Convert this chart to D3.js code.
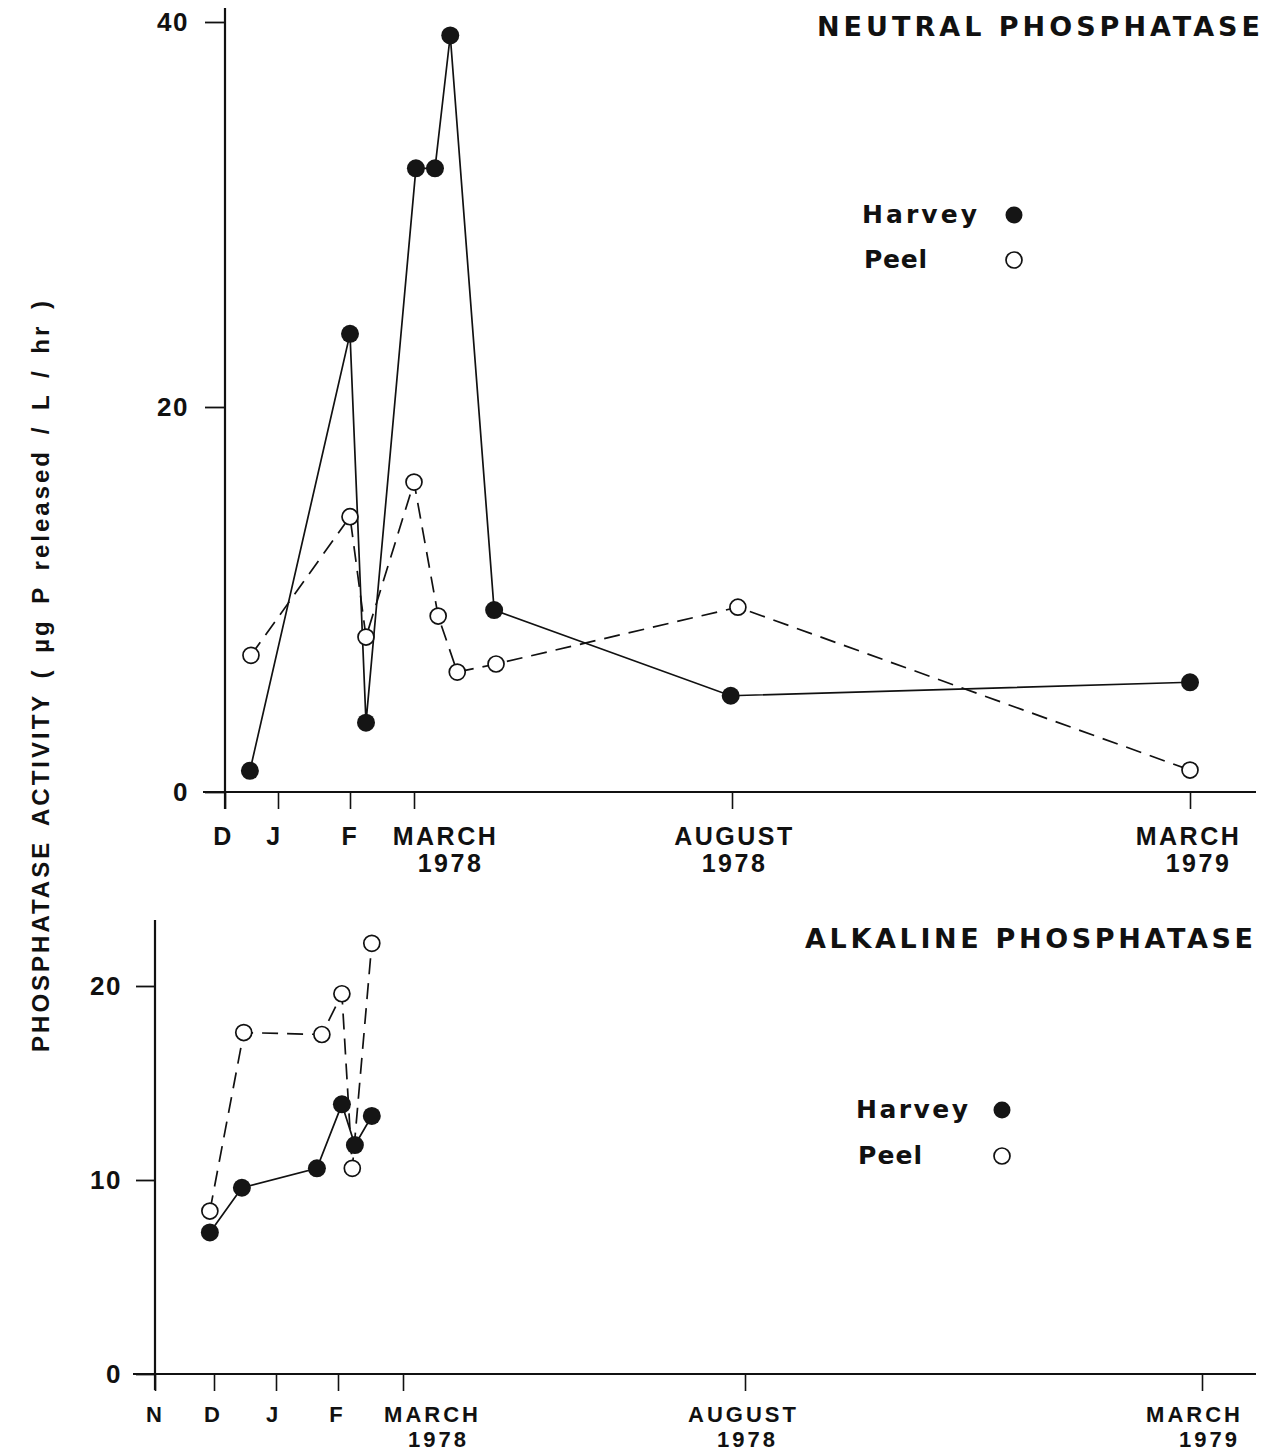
<!DOCTYPE html>
<html>
<head>
<meta charset="utf-8">
<script src="https://cdn.jsdelivr.net/npm/d3@7"></script>
<style>
  body { margin: 0; background: #fff; }
  text { fill: #111; }
  .lbl { font-family: "Liberation Sans", Arial, sans-serif; font-weight: bold; font-size: 25px; letter-spacing: 2.5px; }
  .lbl.small { font-size: 22px; letter-spacing: 3px; }
  .num { font-family: "Liberation Sans", Arial, sans-serif; font-weight: bold; font-size: 26px; letter-spacing: 1.5px; }
  .leg { font-family: "DejaVu Sans", sans-serif; font-weight: bold; font-size: 25px; }
  .ttl { font-family: "DejaVu Sans", sans-serif; font-weight: bold; font-size: 27px; }
  .ylab { font-family: "Liberation Sans", Arial, sans-serif; font-weight: bold; font-size: 24px; letter-spacing: 3px; word-spacing: 5px; }
</style>
</head>
<body>
<div id="chart"></div>
<script>
// months counted from 1 Dec 1977 (top) and 1 Nov 1977 (bottom)
var neutralTicks = [0, 1, 2, 3, 8, 15];
var neutralTickLabels = ["D", "J", "F", "MARCH|1978", "AUGUST|1978", "MARCH|1979"];
var neutralYTicks = [0, 20, 40];

var neutralHarvey = [
  [0.47, 1.1], [2.0, 23.8], [2.25, 3.6], [3.03, 32.4], [3.33, 32.4],
  [3.57, 39.3], [4.26, 9.45], [7.98, 5.0], [15, 5.7]
];
var neutralPeel = [
  [0.49, 7.1], [2.0, 14.3], [2.25, 8.05], [3.0, 16.1], [3.38, 9.14],
  [3.68, 6.23], [4.29, 6.65], [8.09, 9.6], [15, 1.14]
];

var alkalineTicks = [0, 1, 2, 3, 4, 9, 16];
var alkalineTickLabels = ["N", "D", "J", "F", "MARCH|1978", "AUGUST|1978", "MARCH|1979"];
var alkalineYTicks = [0, 10, 20];

var alkalineHarvey = [
  [0.93, 7.3], [1.45, 9.6], [2.66, 10.6], [3.06, 13.9], [3.26, 11.8], [3.52, 13.3]
];
var alkalinePeel = [
  [0.93, 8.4], [1.48, 17.6], [2.74, 17.5], [3.06, 19.6], [3.22, 10.6], [3.52, 22.2]
];

var width = 1275, height = 1454;

var svg = d3.select("#chart")
  .append("svg")
  .attr("width", width)
  .attr("height", height);

// ---------------------------------------------------------------------------
// one panel: hand-drawn month ticks are not evenly spaced, so x is piecewise
function drawPanel(p) {
  var x = d3.scaleLinear().domain(p.ticks).range(p.tickPos);
  var y = d3.scaleLinear().domain(p.yDomain).range(p.yRange);
  var g = svg.append("g");

  // y axis
  var yAx = g.append("g")
    .attr("transform", "translate(" + p.axisX + ",0)")
    .call(d3.axisLeft(y).tickValues(p.yTicks).tickSize(p.yTickLen).tickSizeOuter(0).tickPadding(p.yPad));
  yAx.select(".domain").remove();
  yAx.selectAll("line").attr("stroke", "#111").attr("stroke-width", 1.8);
  yAx.selectAll("text").attr("class", "num").attr("fill", "#111").attr("font-size", null).attr("font-family", null);

  g.append("line")
    .attr("x1", p.axisX).attr("x2", p.axisX)
    .attr("y1", p.yTop).attr("y2", p.yBottom)
    .attr("stroke", "#111").attr("stroke-width", 2.2);

  // x axis
  var xAx = g.append("g")
    .attr("transform", "translate(0," + y(0) + ")")
    .call(d3.axisBottom(x).tickValues(p.ticks).tickSize(17).tickSizeOuter(0).tickFormat(function (d, i) { return p.tickLabels[i]; }));
  xAx.select(".domain").remove();
  xAx.selectAll("line").attr("stroke", "#111").attr("stroke-width", 1.6);
  xAx.selectAll("text").each(function (d, i) {
    var t = d3.select(this);
    var parts = p.tickLabels[i].split("|");
    var off = p.labelOff[i];
    t.text(null)
      .attr("class", p.labelClass)
      .attr("fill", "#111")
      .attr("font-size", null).attr("font-family", null)
      .attr("y", p.lineY[0]).attr("dy", null);
    t.append("tspan").attr("x", off[0]).attr("y", p.lineY[0]).text(parts[0]);
    if (parts[1]) t.append("tspan").attr("x", off[1]).attr("y", p.lineY[1]).text(parts[1]);
  });

  g.append("line")
    .attr("x1", p.xLeft).attr("x2", p.xRight)
    .attr("y1", y(0)).attr("y2", y(0))
    .attr("stroke", "#111").attr("stroke-width", 2.2);

  var line = d3.line()
    .x(function (d) { return x(d[0]); })
    .y(function (d) { return y(d[1]); });

  g.append("path").datum(p.peel)
    .attr("d", line).attr("fill", "none")
    .attr("stroke", "#111").attr("stroke-width", 1.7)
    .attr("stroke-dasharray", "16,9");
  g.append("path").datum(p.harvey)
    .attr("d", line).attr("fill", "none")
    .attr("stroke", "#111").attr("stroke-width", 1.7);

  g.selectAll(".peel").data(p.peel).enter()
    .append("circle").attr("class", "peel")
    .attr("cx", function (d) { return x(d[0]); })
    .attr("cy", function (d) { return y(d[1]); })
    .attr("r", 8).attr("fill", "#fff").attr("stroke", "#111").attr("stroke-width", 1.7);
  g.selectAll(".harvey").data(p.harvey).enter()
    .append("circle").attr("class", "harvey")
    .attr("cx", function (d) { return x(d[0]); })
    .attr("cy", function (d) { return y(d[1]); })
    .attr("r", 9).attr("fill", "#151515");

  // title
  g.append("text").attr("class", "ttl")
    .attr("x", p.title[1]).attr("y", p.title[2])
    .attr("textLength", p.title[3]).attr("lengthAdjust", "spacing")
    .text(p.title[0]);

  // legend
  var L = p.legend;
  g.append("text").attr("class", "leg").attr("x", L.x).attr("y", L.y1)
    .attr("textLength", L.w1).attr("lengthAdjust", "spacing").text("Harvey");
  g.append("text").attr("class", "leg").attr("x", L.x + 2).attr("y", L.y2)
    .attr("textLength", L.w2).attr("lengthAdjust", "spacing").text("Peel");
  g.append("circle").attr("cx", L.cx).attr("cy", L.y1 - 8).attr("r", 8.5).attr("fill", "#151515");
  g.append("circle").attr("cx", L.cx).attr("cy", L.y2 - 8).attr("r", 8)
    .attr("fill", "#fff").attr("stroke", "#111").attr("stroke-width", 1.7);
}

drawPanel({
  ticks: neutralTicks,
  tickLabels: neutralTickLabels,
  tickPos: [225, 278, 350, 414, 732, 1190],
  labelOff: [[-2, 0], [-4, 0], [0, 0], [31, 36], [2, 2], [-2, 8]],
  labelClass: "lbl",
  lineY: [53, 80],
  yDomain: [0, 40], yRange: [792, 22], yTicks: neutralYTicks,
  axisX: 225, yTop: 8, yBottom: 809, yTickLen: 20, yPad: 16,
  xLeft: 203, xRight: 1256,
  harvey: neutralHarvey, peel: neutralPeel,
  title: ["NEUTRAL  PHOSPHATASE", 817, 36, 443],
  legend: { x: 862, y1: 223, y2: 268, w1: 115, w2: 63, cx: 1014 }
});

drawPanel({
  ticks: alkalineTicks,
  tickLabels: alkalineTickLabels,
  tickPos: [155, 214, 276, 338, 403, 745, 1202],
  labelOff: [[0, 0], [-1, 0], [-3, 0], [-1, 0], [29, 35], [-2, 2], [-8, 7]],
  labelClass: "lbl small",
  lineY: [48, 73],
  yDomain: [0, 20], yRange: [1374, 986], yTicks: alkalineYTicks,
  axisX: 155, yTop: 920, yBottom: 1390, yTickLen: 19, yPad: 14,
  xLeft: 133, xRight: 1256,
  harvey: alkalineHarvey, peel: alkalinePeel,
  title: ["ALKALINE  PHOSPHATASE", 805, 948, 448],
  legend: { x: 856, y1: 1118, y2: 1164, w1: 112, w2: 64, cx: 1002 }
});

// shared y label
svg.append("text")
  .attr("class", "ylab")
  .attr("transform", "translate(49,675) rotate(-90)")
  .attr("text-anchor", "middle")
  .text("PHOSPHATASE ACTIVITY ( \u00b5g P released / L / hr )");
</script>
</body>
</html>
